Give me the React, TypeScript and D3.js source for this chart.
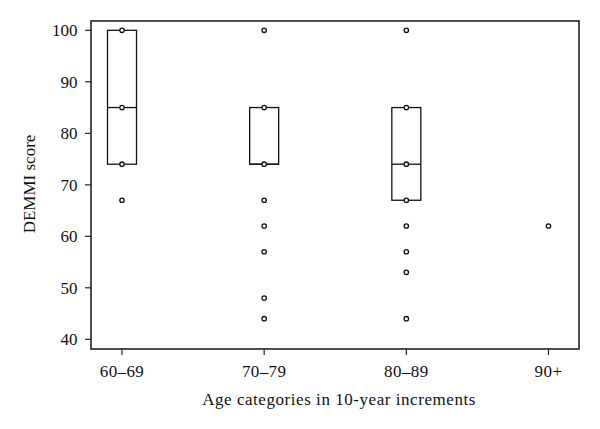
import React from "react";
import * as d3 from "d3";

const categories = ["60–69", "70–79", "80–89", "90+"];
// box stats: [q1, median, q3] per category (null = no box)
const boxQ1: (number | null)[] = [74, 74, 67, null];
const boxMedian: (number | null)[] = [85, 74, 74, null];
const boxQ3: (number | null)[] = [100, 85, 85, null];
const points: number[][] = [
  [100, 85, 74, 67],
  [100, 85, 74, 67, 62, 57, 48, 44],
  [100, 85, 74, 67, 62, 57, 53, 44],
  [62],
];
const yTicks = [40, 50, 60, 70, 80, 90, 100];

const W = 600, H = 429;
const left = 91, right = 579, top = 21, bottom = 349;
const font = "'Liberation Serif', 'DejaVu Serif', serif";

export default function App() {
  const x = d3.scalePoint<string>().domain(categories).range([122, 548.5]);
  const y = d3.scaleLinear().domain([40, 100]).range([339.3, 30.3]);
  const boxW = 29;
  return (
    <svg width={W} height={H} style={{ position: "absolute", left: 0, top: 0, background: "#fff" }}>
      <rect x={left} y={top} width={right - left} height={bottom - top} fill="none" stroke="#222" strokeWidth={1.6} />
      {yTicks.map((t) => (
        <g key={t}>
          <line x1={left - 6} x2={left} y1={y(t)} y2={y(t)} stroke="#222" strokeWidth={1.2} />
          <text x={77.5} y={y(t)} dy="0.35em" textAnchor="end" fontFamily={font} fontSize={17} fill="#111">{t}</text>
        </g>
      ))}
      {categories.map((c) => (
        <g key={c}>
          <line x1={x(c)!} x2={x(c)!} y1={bottom} y2={bottom + 6} stroke="#222" strokeWidth={1.2} />
          <text x={x(c)!} y={377} textAnchor="middle" fontFamily={font} fontSize={17} letterSpacing={0.4} fill="#111">{c}</text>
        </g>
      ))}
      {categories.map((c, i) => {
        const q1 = boxQ1[i], q3 = boxQ3[i], m = boxMedian[i];
        if (q1 == null || q3 == null || m == null) return null;
        const cx = x(c)!;
        return (
          <g key={"b" + c}>
            <rect x={cx - boxW / 2} y={y(q3)} width={boxW} height={y(q1) - y(q3)} fill="none" stroke="#111" strokeWidth={1.3} />
            <line x1={cx - boxW / 2} x2={cx + boxW / 2} y1={y(m)} y2={y(m)} stroke="#111" strokeWidth={1.3} />
          </g>
        );
      })}
      {categories.map((c, i) =>
        points[i].map((v, j) => (
          <circle key={c + j} cx={x(c)!} cy={y(v)} r={2.2} fill="#fff" stroke="#111" strokeWidth={1.3} />
        ))
      )}
      <text x={339} y={405} textAnchor="middle" fontFamily={font} fontSize={17} letterSpacing={0.55} fill="#111">
        Age categories in 10-year increments
      </text>
      <text transform={`translate(35,184) rotate(-90)`} textAnchor="middle" fontFamily={font} fontSize={17} fill="#111">
        DEMMI score
      </text>
    </svg>
  );
}
